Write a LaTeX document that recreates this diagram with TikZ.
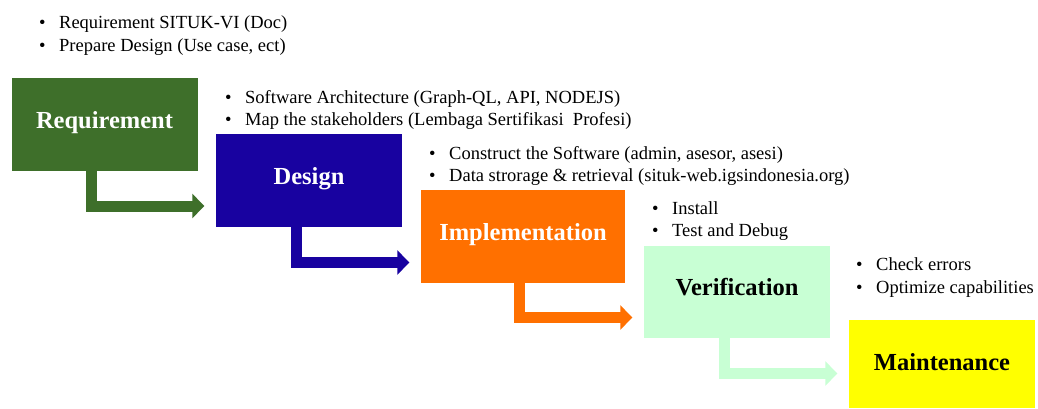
\documentclass[tikz,border=0pt]{standalone}
\usepackage{fontspec}
\setmainfont{Liberation Serif}
\usepackage{tikz}
\usetikzlibrary{positioning}
\usetikzlibrary{calc}
\usetikzlibrary{arrows.meta}

\definecolor{reqgreen}{RGB}{62,111,42}
\definecolor{desblue}{RGB}{24,2,160}
\definecolor{implorange}{RGB}{255,112,0}
\definecolor{vergreen}{RGB}{200,255,212}
\definecolor{maintyellow}{RGB}{255,255,0}

\tikzset{
  phase/.style={rectangle, inner sep=0pt, minimum height=93pt, minimum width=186pt,
    text height=17pt, text depth=10pt,
    font=\fontsize{24.5}{28}\selectfont\bfseries},
  notes/.style={anchor=west, inner sep=0pt, align=left,
    font=\fontsize{18.5}{22.5}\selectfont},
  flow/.style={draw=#1, line width=11pt, line join=miter,
    -{Triangle[width=24pt,length=12pt]}}
}
\newcommand{\itm}[1]{\makebox[20pt][l]{\textbullet}#1}

\begin{document}
\begin{tikzpicture}[x=1pt,y=-1pt]
\useasboundingbox (0,0) rectangle (1038,408);

%fazy
\node[phase, fill=reqgreen, text=white] (req) at (104.5,124.5) {Requirement};
\node[phase, fill=desblue, text=white] (des) at (309,180.5) {Design};
\node[phase, fill=implorange, text=white, minimum width=204pt] (impl) at (523,236.5) {Implementation};
\node[phase, fill=vergreen, minimum height=92pt] (ver) at (737,292) {Verification};
\node[phase, fill=maintyellow, minimum height=88pt, text depth=5pt] (maint) at (942,364) {Maintenance};

%strzalki
\foreach \a/\b/\dx/\dy/\c in {req/des/-13/-25.5/reqgreen, des/impl/-12.5/-26/desblue,
  impl/ver/-3.5/-25.5/implorange, ver/maint/-12.5/-9.5/vergreen}
  \draw[flow=\c] ([xshift=\dx pt]\a.south) |- ([xshift=-11.5pt,yshift=\dy pt]\b.west);

%opisy
\node[notes] (reqnotes) at (39,35.5) {\itm{Requirement SITUK-VI (Doc)}\\ \itm{Prepare Design (Use case, ect)}};
\node[notes] (desnotes) at (225,110) {\itm{Software Architecture (Graph-QL, API, NODEJS)}\\ \itm{Map the stakeholders (Lembaga Sertifikasi~ Profesi)}};
\node[notes] (implnotes) at (429,166) {\itm{Construct the Software (admin, asesor, asesi)}\\ \itm{Data strorage \& retrieval (situk-web.igsindonesia.org)}};
\node[notes] (vernotes) at (652,221) {\itm{Install}\\ \itm{Test and Debug}};
\node[notes] (maintnotes) at (856,277.5) {\itm{Check errors}\\ \itm{Optimize capabilities}};

\end{tikzpicture}
\end{document}
